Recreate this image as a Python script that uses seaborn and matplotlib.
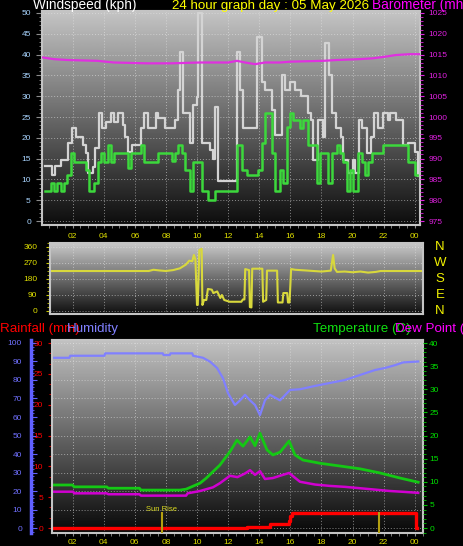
import numpy as np
import matplotlib
matplotlib.use("Agg")
import matplotlib.pyplot as plt
from matplotlib.ticker import MultipleLocator
from matplotlib.transforms import blended_transform_factory
import seaborn as sns

# ---- time axis (hours of the day)
hours = list(range(2, 25, 2))
hour_labels = ["02", "04", "06", "08", "10", "12", "14", "16", "18", "20", "22", "00"]

# ---- wind speed (kph): gust and average, step series
gust_t = [0.20, 0.70, 0.85, 1.22, 1.67, 1.99, 2.19, 2.64, 2.83, 3.02, 3.28, 3.47, 3.67, 3.92,
          4.12, 4.44, 4.63, 4.89, 5.21, 5.40, 5.59, 5.85, 6.37, 6.56, 6.82, 7.33, 7.52, 7.97,
          8.59, 8.80, 8.91, 9.12, 9.55, 9.76, 9.98, 10.08, 10.30, 10.84, 11.05, 11.16, 11.37,
          12.55, 12.77, 12.98, 13.84, 14.16, 14.37, 14.80, 15.02, 15.45, 15.66, 16.01, 16.33,
          16.66, 17.11, 17.30, 17.49, 17.81, 18.07, 18.26, 18.46, 18.71, 18.91, 19.23, 19.42,
          19.74, 20.00, 20.19, 20.39, 20.64, 20.96, 21.16, 21.35, 21.67, 21.93, 22.25, 22.44,
          22.77, 23.22, 23.54, 24.00, 24.20]
gust_v = [13.2, 11.1, 13.2, 14.7, 18.7, 22.3, 20.3, 18.3, 16.3, 11.5, 13.0, 17.5, 25.9, 22.3,
          23.9, 25.9, 23.9, 25.9, 23.0, 20.3, 16.7, 18.3, 22.3, 25.9, 22.3, 25.9, 24.7, 22.3,
          24.3, 31.5, 40.7, 25.9, 18.7, 27.9, 29.9, 49.9, 18.7, 17.0, 15.0, 27.5, 9.5,
          40.7, 31.5, 22.3, 44.3, 33.5, 31.5, 26.7, 20.7, 35.1, 31.5, 33.5, 31.5,
          30.0, 25.9, 24.3, 14.7, 24.3, 20.3, 42.7, 35.1, 25.9, 22.3, 20.3, 14.7,
          11.5, 14.7, 11.5, 24.3, 22.3, 16.3, 20.3, 25.9, 22.3, 25.9, 24.3, 25.9,
          24.3, 18.3, 18.7, 16.6, 10.7]
avg_t = [0.20, 0.58, 0.79, 1.01, 1.22, 1.44, 1.66, 1.87, 2.08, 2.83, 3.05, 3.37, 3.60, 3.81,
         4.03, 4.25, 4.47, 4.68, 5.54, 5.75, 6.40, 6.62, 7.48, 8.37, 8.59, 8.80, 9.02, 9.23,
         9.55, 9.76, 10.30, 10.73, 11.16, 12.55, 12.87, 13.20, 13.94, 14.16, 14.37, 14.80,
         15.02, 15.34, 15.55, 15.77, 16.00, 16.19, 16.62, 16.84, 17.16, 17.70, 17.91, 18.44,
         18.66, 18.98, 19.20, 19.41, 19.63, 19.84, 20.05, 20.37, 20.59, 20.80, 21.02, 21.23,
         21.98, 23.59, 24.02, 24.20]
avg_v = [7.1, 9.1, 7.1, 9.1, 7.1, 9.1, 11.1, 16.3, 14.3, 12.3, 7.1, 9.1, 14.3, 16.3,
         14.3, 18.3, 14.3, 16.3, 12.7, 16.3, 18.3, 14.3, 16.3, 14.5, 16.3, 18.3, 16.3, 12.3,
         7.1, 14.3, 7.1, 5.0, 7.1, 18.3, 12.3, 11.1, 12.3, 18.7, 25.9, 16.3,
         7.1, 12.3, 9.1, 22.7, 25.9, 24.3, 22.3, 24.3, 18.3, 9.1, 16.3, 9.1,
         16.3, 18.3, 16.3, 14.3, 7.1, 12.3, 7.1, 16.3, 14.3, 11.1, 14.3, 16.3,
         18.3, 14.3, 11.0, 11.0]

# ---- barometer (mb)
baro_t = [0.10, 0.80, 1.66, 3.60, 4.66, 6.80, 8.30, 10.20, 12.00, 12.57, 13.09, 13.73, 14.37,
          15.34, 16.00, 18.10, 19.00, 20.40, 21.30, 22.10, 22.80, 23.70, 24.28]
baro_v = [1014.3, 1013.9, 1013.7, 1013.5, 1013.1, 1012.9, 1012.9, 1013.1, 1013.1, 1013.5,
          1013.1, 1012.7, 1013.1, 1013.1, 1013.3, 1013.5, 1013.7, 1013.9, 1014.1, 1014.5,
          1014.9, 1015.1, 1015.1]

# ---- wind direction (degrees)
dir_t = [0.55, 6.90, 7.20, 7.60, 8.00, 8.46, 8.90, 9.30, 9.50, 9.70, 9.80, 9.90, 10.00, 10.05,
         10.15, 10.30, 10.35, 10.45, 10.60, 10.70, 10.95, 11.05, 11.30, 11.50, 11.60, 11.75,
         12.10, 12.85, 12.95, 13.05, 13.10, 13.35, 13.40, 13.50, 13.55, 14.20, 14.25, 14.45,
         14.50, 15.15, 15.20, 15.50, 15.55, 15.80, 15.85, 15.95, 16.05, 16.30, 17.00, 17.50,
         18.00, 18.60, 18.75, 18.85, 19.00, 19.50, 20.00, 20.50, 21.00, 21.50, 21.80, 24.50]
dir_v = [225, 225, 232, 228, 225, 230, 240, 262, 283, 280, 315, 290, 34, 34,
         343, 350, 34, 62, 62, 124, 120, 101, 110, 73, 90, 62,
         52, 52, 65, 65, 236, 230, 22, 20, 238, 238, 52, 62,
         227, 227, 48, 48, 101, 101, 48, 48, 236, 232, 228, 225,
         222, 227, 315, 240, 220, 222, 218, 222, 216, 220, 225, 225]
compass = ["N", "W", "S", "E", "N"]
compass_deg = [360, 270, 180, 90, 0]

# ---- humidity (%), temperature / dew point (C), rainfall (mm)
hum_t = [0.74, 1.80, 1.85, 4.05, 4.10, 7.80, 7.85, 8.25, 8.30, 9.70, 9.75, 10.39, 10.84, 11.29,
         11.67, 11.99, 12.44, 12.77, 13.09, 13.41, 13.73, 14.05, 14.37, 14.69, 15.34, 15.98,
         16.62, 17.59, 18.55, 19.51, 20.48, 21.45, 22.09, 22.73, 23.25, 24.22]
hum_v = [92.0, 92.0, 93.1, 93.1, 94.4, 94.4, 93.5, 93.5, 94.4, 94.4, 93.1, 92.0, 89.9, 86.5,
         81.0, 73.0, 66.5, 69.0, 72.0, 69.0, 66.5, 61.0, 69.0, 72.0, 69.0, 74.6,
         75.0, 76.8, 78.4, 80.0, 82.7, 85.4, 86.5, 88.0, 89.5, 90.0]
temp_t = [0.74, 2.00, 2.10, 4.20, 4.30, 6.30, 6.40, 8.90, 9.30, 10.20, 10.60, 11.47, 12.12,
          12.57, 12.96, 13.41, 13.73, 14.05, 14.50, 14.88, 15.34, 15.92, 16.30, 16.81, 17.91,
          19.20, 20.48, 21.77, 23.06, 24.22]
temp_v = [9.3, 9.3, 8.9, 8.9, 8.6, 8.6, 8.2, 8.2, 8.4, 9.7, 10.8, 13.6, 16.5,
          19.0, 17.7, 19.7, 17.8, 20.5, 16.9, 15.8, 16.4, 18.8, 15.8, 14.7, 14.0,
          13.4, 12.8, 11.9, 10.8, 9.9]
dew_t = [0.74, 2.05, 2.10, 4.20, 4.30, 6.30, 6.40, 9.30, 9.40, 10.19, 11.03, 11.48, 12.12,
         12.60, 13.09, 13.41, 13.73, 14.05, 14.37, 14.88, 15.34, 15.92, 16.62, 17.59, 18.55,
         19.51, 20.48, 21.45, 22.41, 23.38, 24.22]
dew_v = [7.85, 7.85, 7.5, 7.5, 7.3, 7.3, 7.0, 7.0, 7.5, 8.0, 8.8, 9.7, 11.3,
         11.0, 11.8, 12.5, 11.5, 12.3, 10.6, 10.8, 11.3, 11.9, 10.0, 9.4, 9.1,
         8.9, 8.6, 8.3, 8.0, 7.8, 7.6]
rain_t = [0.74, 13.20, 14.70, 15.90, 16.00, 16.10, 24.05, 24.15]
rain_v = [0.0, 0.2, 0.6, 1.2, 2.0, 2.5, 0.0, 0.0]
sun_times = [7.72, 21.67]

# ---- figure, laid out in pixels
W, H = 464, 546
plt.rcParams["font.family"] = ["Liberation Sans", "DejaVu Sans"]
fig = plt.figure(figsize=(W / 100, H / 100), dpi=100, facecolor="black")


def panel(left, top, right, bottom):
    ax = fig.add_axes([left / W, 1 - bottom / H, (right - left) / W, (bottom - top) / H])
    ax.set_facecolor("black")
    return ax


def shade(ax, hi, lo):
    grad = np.linspace(hi, lo, 256).reshape(-1, 1)
    ax.imshow(grad, cmap="gray", vmin=0, vmax=1, aspect="auto", extent=[0, 1, 0, 1],
              transform=ax.transAxes, zorder=0)


def frame(ax):
    for sp in ax.spines.values():
        sp.set_color("#c4c4c4")
        sp.set_linewidth(1.5)
    ax.grid(True, which="major", color="#e8e8e8", linestyle=(0, (1, 2)), linewidth=0.7, alpha=0.55)


def hide_spines(ax):
    for sp in ax.spines.values():
        sp.set_visible(False)


line = dict(estimator=None, sort=False, legend=False)

# ================= windspeed / barometer =================
ax_w = panel(42, 11, 420, 225)
shade(ax_w, 0.77, 0.05)
sns.lineplot(x=gust_t, y=gust_v, ax=ax_w, color="#d4d4d4", linewidth=1.6, drawstyle="steps-post", **line)
sns.lineplot(x=avg_t, y=avg_v, ax=ax_w, color="#3cd83c", linewidth=1.8, drawstyle="steps-post", **line)
ax_w.set_xlim(0.03, 24.34)
ax_w.set_ylim(-0.96, 50.48)
ax_w.set_xticks(hours, hour_labels)
ax_w.xaxis.set_minor_locator(MultipleLocator(0.5))
ax_w.set_yticks(range(0, 51, 5))
ax_w.yaxis.set_minor_locator(MultipleLocator(1))
ax_w.tick_params(axis="y", which="both", colors="#8c8c8c", labelcolor="#a8d4ff", labelsize=6, pad=4)
ax_w.tick_params(axis="y", which="major", length=4)
ax_w.tick_params(axis="y", which="minor", length=2)
ax_w.tick_params(axis="x", which="both", colors="#8c8c8c", labelcolor="#e0e000", labelsize=6,
                 length=2, pad=4)
frame(ax_w)
ax_w.set_xlabel("")
ax_w.set_ylabel("")

ax_b = ax_w.twinx()
sns.lineplot(x=baro_t, y=baro_v, ax=ax_b, color="#e030e0", linewidth=1.6, **line)
ax_b.set_ylim(974.04, 1025.48)
ax_b.set_yticks(range(975, 1026, 5))
ax_b.yaxis.set_minor_locator(MultipleLocator(1))
ax_b.tick_params(axis="y", which="both", colors="#e020e0", labelcolor="#e020e0", labelsize=6, pad=3)
ax_b.tick_params(axis="y", which="major", length=3)
ax_b.tick_params(axis="y", which="minor", length=2)
ax_b.set_ylabel("")
hide_spines(ax_b)

# ================= wind direction =================
ax_d = panel(50, 243, 423, 314)
shade(ax_d, 0.79, 0.06)
sns.lineplot(x=dir_t, y=dir_v, ax=ax_d, color="#d8d83c", linewidth=1.5, **line)
ax_d.set_xlim(0.55, 24.53)
ax_d.set_ylim(-16.9, 382.5)
ax_d.set_xticks(hours, [])
ax_d.tick_params(axis="x", length=0)
ax_d.set_yticks([0, 90, 180, 270, 360])
ax_d.yaxis.set_minor_locator(MultipleLocator(22.5))
ax_d.tick_params(axis="y", which="both", colors="#c8c800", labelcolor="#e0e000", labelsize=6, pad=6)
ax_d.tick_params(axis="y", which="major", length=3)
ax_d.tick_params(axis="y", which="minor", length=2)
frame(ax_d)
ax_d.set_ylabel("")
tr = blended_transform_factory(ax_d.transAxes, ax_d.transData)
for letter, deg in zip(compass, compass_deg):
    ax_d.text(1.046, deg, letter, transform=tr, color="#f0f000", fontsize=9.5,
              ha="center", va="center")

# ================= humidity / temperature / rain =================
ax_h = panel(52, 340, 423, 533)
shade(ax_h, 0.76, 0.03)
sns.lineplot(x=hum_t, y=hum_v, ax=ax_h, color="#8080ff", linewidth=1.6, **line)
ax_h.set_xlim(0.68, 24.53)
ax_h.set_ylim(-2.70, 101.62)
ax_h.set_xticks(hours, hour_labels)
ax_h.xaxis.set_minor_locator(MultipleLocator(0.5))
ax_h.tick_params(axis="x", which="both", colors="#8c8c8c", labelcolor="#e0e000", labelsize=6,
                 length=2, pad=2)
ax_h.set_yticks(range(0, 101, 10))
ax_h.yaxis.set_minor_locator(MultipleLocator(2))
ax_h.tick_params(axis="y", which="both", direction="in", colors="#6060ff", labelcolor="#7070ff",
                 labelsize=6, pad=6.5)
ax_h.tick_params(axis="y", which="major", length=4)
ax_h.tick_params(axis="y", which="minor", length=2)
frame(ax_h)
ax_h.spines["left"].set_position(("outward", 21 * 0.72))
ax_h.spines["left"].set_color("#6060ff")
ax_h.spines["left"].set_linewidth(2.5)
ax_h.set_ylabel("")

ax_t = ax_h.twinx()
sns.lineplot(x=temp_t, y=temp_v, ax=ax_t, color="#14c814", linewidth=2.0, **line)
sns.lineplot(x=dew_t, y=dew_v, ax=ax_t, color="#d000d0", linewidth=1.8, **line)
ax_t.set_ylim(-1.08, 40.65)
ax_t.set_yticks(range(0, 41, 5))
ax_t.yaxis.set_minor_locator(MultipleLocator(1))
ax_t.tick_params(axis="y", which="both", colors="#00c000", labelcolor="#00e000", labelsize=6, pad=1.5)
ax_t.tick_params(axis="y", which="major", length=3)
ax_t.tick_params(axis="y", which="minor", length=2)
ax_t.set_ylabel("")
hide_spines(ax_t)

ax_r = ax_h.twinx()
sns.lineplot(x=rain_t, y=rain_v, ax=ax_r, color="#ff0000", linewidth=2.4, drawstyle="steps-post", **line)
ax_r.vlines(sun_times, -0.81, 2.6, color="#b4a010", linewidth=1.5)
ax_r.text(sun_times[0], 2.76, "Sun Rise", color="#d8d820", fontsize=5.5, ha="center", va="baseline")
ax_r.set_ylim(-0.81, 30.49)
ax_r.yaxis.tick_left()
ax_r.set_yticks(range(0, 31, 5))
ax_r.yaxis.set_minor_locator(MultipleLocator(5 / 3))
ax_r.tick_params(axis="y", which="both", colors="#e00000", labelcolor="#ff0000", labelsize=6, pad=3.5)
ax_r.tick_params(axis="y", which="major", length=3)
ax_r.tick_params(axis="y", which="minor", length=2)
ax_r.set_ylabel("")
hide_spines(ax_r)
ax_r.spines["left"].set_visible(True)
ax_r.spines["left"].set_color("#c4c4c4")
ax_r.spines["left"].set_linewidth(1.5)

# ================= header texts =================
top_base = 1 - 9.5 / H
fig.text(33 / W, top_base, "Windspeed (kph)", color="white", fontsize=9.8, va="baseline")
fig.text(172 / W, top_base, "24 hour graph day : 05 May 2026", color="#ffff00", fontsize=9.6,
         va="baseline")
fig.text(372 / W, top_base, "Barometer (mh)", color="#ff00ff", fontsize=9.8, va="baseline")

mid_base = 1 - 332 / H
fig.text(0, mid_base, "Rainfall (mm)", color="#ff0000", fontsize=9.6, va="baseline")
fig.text(67 / W, mid_base, "Humidity", color="#8080ff", fontsize=9.6, va="baseline")
fig.text(313 / W, mid_base, "Temperature (C)", color="#10e010", fontsize=9.6, va="baseline")
fig.text(395 / W, mid_base, "Dew Point (C)", color="#ff00ff", fontsize=9.6, va="baseline")

fig.savefig("out.png", dpi=100, facecolor="black")
